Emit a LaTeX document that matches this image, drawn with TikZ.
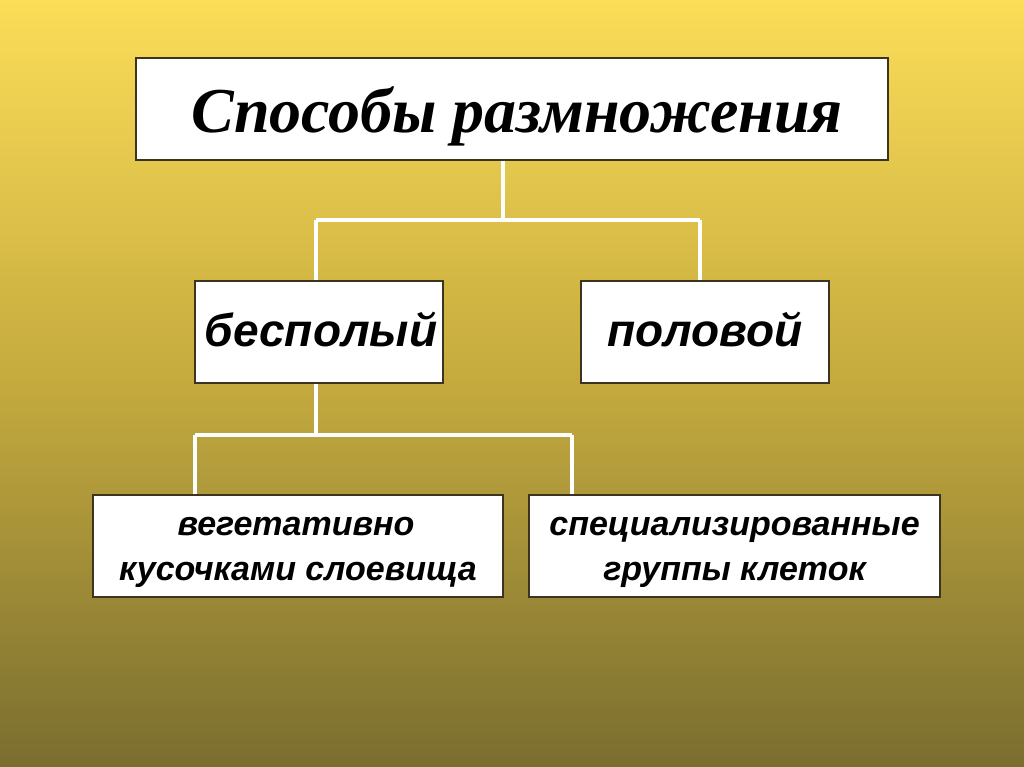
\documentclass[tikz,border=0pt]{standalone}
\usepackage{fontspec}
\setmainfont{Liberation Sans}
\newfontfamily\titlefont{Liberation Serif}
\definecolor{bgtop}{RGB}{252,221,88}
\definecolor{bgmid}{RGB}{196,170,62}
\definecolor{bgbot}{RGB}{122,110,48}
\definecolor{boxline}{RGB}{60,52,30}
\tikzset{
  box/.style={draw=boxline,line width=1.5pt,fill=white,inner sep=0pt,align=center},
  conn/.style={draw=white,line width=4pt},
  lbl/.style={font=\fontsize{46}{50}\selectfont\bfseries\itshape},
  small/.style={font=\fontsize{34}{45}\selectfont\bfseries\itshape}
}
\begin{document}
\begin{tikzpicture}[x=1pt,y=-1pt]
\useasboundingbox (0,0) rectangle (1024,767);
\shade[top color=bgtop,bottom color=bgbot,middle color=bgmid] (0,0) rectangle (1024,767);
% nodes
\node[box,minimum width=752pt,minimum height=102pt] (title) at (512,109) {};
\node[font=\titlefont\fontsize{64}{70}\selectfont\bfseries\itshape,anchor=base] (titletext) at (517,133) {Способы размножения};
\coordinate (t1) at (503,220);
\coordinate (tl) at (316,220);
\coordinate (tr) at (700,220);
\node[box,minimum width=248pt,minimum height=102pt] (asex) at (319,332) {};
\node[lbl,anchor=base] (asextext) at (321,346) {бесполый};
\node[box,minimum width=248pt,minimum height=102pt] (sex) at (705,332) {};
\node[lbl,anchor=base] (sextext) at (705,346) {половой};
\coordinate (a1) at (316,435);
\coordinate (al) at (195,435);
\coordinate (ar) at (572,435);
\node[box,minimum width=410pt,minimum height=102pt] (veg) at (298,546) {};
\node[small,anchor=base] (veg1) at (296,535) {вегетативно};
\node[small,anchor=base] (veg2) at (298,580) {кусочками слоевища};
\node[box,minimum width=411pt,minimum height=102pt] (spec) at (734.5,546) {};
\node[small,anchor=base] (spec1) at (734.5,535) {специализированные};
\node[small,anchor=base] (spec2) at (734.5,580) {группы клеток};
% connectors
\draw[conn] (title.south -| t1) -- (t1);
\draw[conn] (tl) -- (tr);
\draw[conn] (tl) -- (tl |- asex.north);
\draw[conn] (tr) -- (tr |- sex.north);
\draw[conn] (asex.south -| a1) -- (a1);
\draw[conn] (al) -- (ar);
\draw[conn] (al) -- (al |- veg.north);
\draw[conn] (ar) -- (ar |- spec.north);
\end{tikzpicture}
\end{document}
